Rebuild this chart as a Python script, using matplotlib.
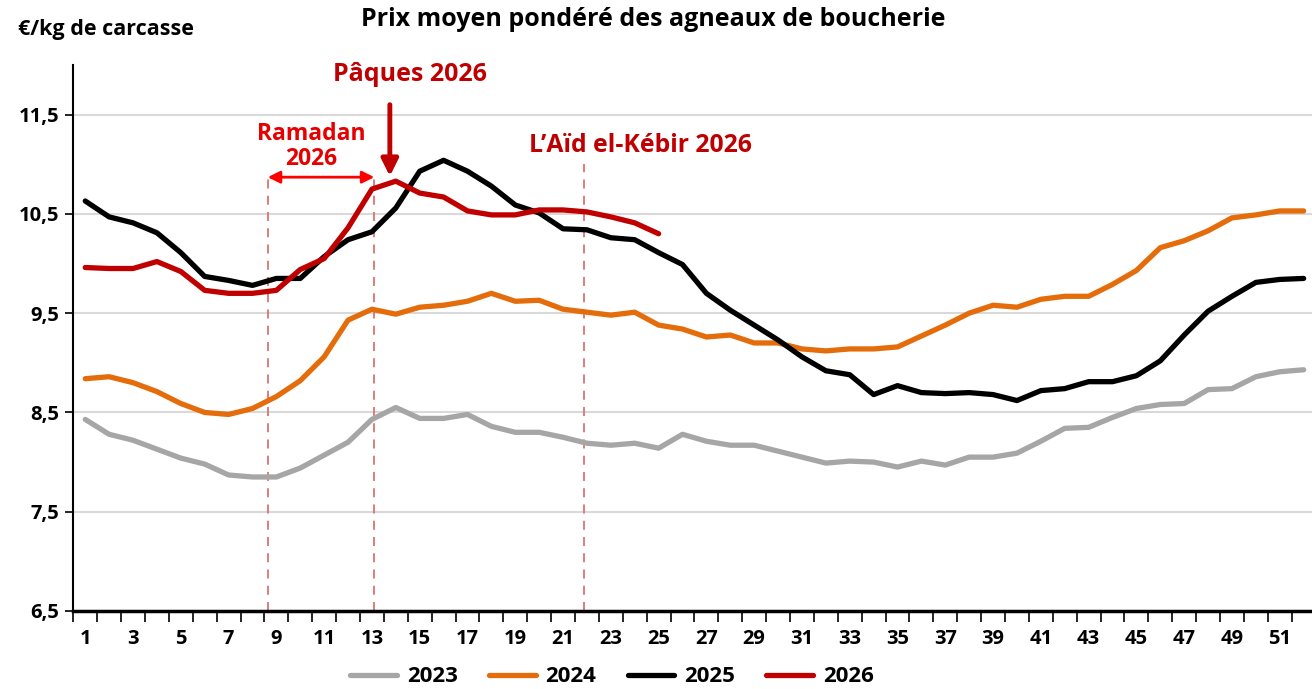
import matplotlib
matplotlib.use("Agg")
import matplotlib.pyplot as plt
from matplotlib.ticker import FixedLocator, FuncFormatter

weeks = list(range(1, 53))
p2023 = [8.43, 8.28, 8.22, 8.13, 8.04, 7.98, 7.87, 7.85, 7.85, 7.94, 8.07, 8.20, 8.43, 8.55,
         8.44, 8.44, 8.48, 8.36, 8.30, 8.30, 8.25, 8.19, 8.17, 8.19, 8.14, 8.28, 8.21, 8.17,
         8.17, 8.11, 8.05, 7.99, 8.01, 8.00, 7.95, 8.01, 7.97, 8.05, 8.05, 8.09, 8.21, 8.34,
         8.35, 8.45, 8.54, 8.58, 8.59, 8.73, 8.74, 8.86, 8.91, 8.93]
p2024 = [8.84, 8.86, 8.80, 8.71, 8.59, 8.50, 8.48, 8.54, 8.66, 8.82, 9.06, 9.43, 9.54, 9.49,
         9.56, 9.58, 9.62, 9.70, 9.62, 9.63, 9.54, 9.51, 9.48, 9.51, 9.38, 9.34, 9.26, 9.28,
         9.20, 9.20, 9.14, 9.12, 9.14, 9.14, 9.16, 9.27, 9.38, 9.50, 9.58, 9.56, 9.64, 9.67,
         9.67, 9.79, 9.93, 10.16, 10.23, 10.33, 10.46, 10.49, 10.53, 10.53]
p2025 = [10.63, 10.47, 10.41, 10.31, 10.11, 9.87, 9.83, 9.78, 9.85, 9.85, 10.07, 10.24, 10.32,
         10.56, 10.93, 11.04, 10.93, 10.78, 10.59, 10.51, 10.35, 10.34, 10.26, 10.24, 10.11,
         9.99, 9.70, 9.53, 9.38, 9.23, 9.06, 8.92, 8.88, 8.68, 8.77, 8.70, 8.69, 8.70, 8.68,
         8.62, 8.72, 8.74, 8.81, 8.81, 8.87, 9.02, 9.28, 9.52, 9.67, 9.81, 9.84, 9.85]
p2026 = [9.96, 9.95, 9.95, 10.02, 9.92, 9.73, 9.70, 9.70, 9.73, 9.94, 10.05, 10.36, 10.75,
         10.83, 10.71, 10.67, 10.53, 10.49, 10.49, 10.54, 10.54, 10.52, 10.47, 10.41, 10.30]

series = [("2023", p2023, "#a6a6a6"), ("2024", p2024, "#e46c0a"),
          ("2025", p2025, "#000000"), ("2026", p2026, "#c00000")]

ramadan_start, ramadan_end = 8.64, 13.1
aid_week = 21.87
paques_week = 13.75

FONT = "Open Sans"
plt.rcParams['font.family'] = [FONT, 'DejaVu Sans']

fig = plt.figure(figsize=(13.12, 6.89), dpi=100)
ax = fig.add_axes([73.3/1312, 1-611/689, (1315.6-73.3)/1312, (611-65)/689])

ax.set_ylim(6.5, 12.0)
ax.set_xlim(0.5, 52.5)
ax.yaxis.set_major_locator(FixedLocator([6.5, 7.5, 8.5, 9.5, 10.5, 11.5]))
ax.yaxis.set_major_formatter(FuncFormatter(lambda v, p: f"{v:.1f}".replace(".", ",")))
ax.grid(axis='y', color='#d9d9d9', linewidth=1.5, zorder=0)

for lab, vals, col in series:
    ax.plot(weeks[:len(vals)], vals, color=col, linewidth=3.8, label=lab,
            solid_capstyle='round', solid_joinstyle='round', zorder=3)

ax.xaxis.set_major_locator(FixedLocator(list(range(1, 53, 2))))
ax.xaxis.set_minor_locator(FixedLocator([w + 0.5 for w in range(0, 53)]))
ax.tick_params(axis='x', which='major', length=0, pad=13, labelsize=14.5)
ax.tick_params(axis='x', which='minor', length=8, width=1.2, direction='out')
ax.tick_params(axis='y', which='major', length=6, width=1.2, direction='out', labelsize=14.5, pad=4)
for t in ax.get_xticklabels() + ax.get_yticklabels():
    t.set_fontweight('bold')

for s in ['top', 'right']:
    ax.spines[s].set_visible(False)
ax.spines['left'].set_linewidth(1.5)
ax.spines['bottom'].set_linewidth(2.5)

# annotations
dash_col = "#d97373"
y_ram = 10.87
ax.plot([ramadan_start, ramadan_start], [6.5, y_ram], color=dash_col, lw=1.3, ls=(0, (5, 4)), zorder=2)
ax.plot([ramadan_end, ramadan_end], [6.5, y_ram], color=dash_col, lw=1.3, ls=(0, (5, 4)), zorder=2)
ax.plot([aid_week, aid_week], [6.5, 11.0], color=dash_col, lw=1.3, ls=(0, (5, 4)), zorder=2)
ax.annotate("", xy=(ramadan_start, y_ram), xytext=(ramadan_end, y_ram),
            arrowprops=dict(arrowstyle="<|-|>", color="#ff0000", lw=2, mutation_scale=18, shrinkA=0, shrinkB=0))
ax.text((ramadan_start + ramadan_end) / 2 - 0.4, 11.18, "Ramadan\n2026", color="#e60000",
        fontsize=16.5, fontweight='bold', ha='center', va='center', linespacing=1.1)
ax.annotate("", xy=(paques_week, 10.88), xytext=(paques_week, 11.6),
            arrowprops=dict(arrowstyle="-|>", color="#c00000", lw=3.5, mutation_scale=25, shrinkA=0, shrinkB=0),
            annotation_clip=False)
ax.text(paques_week + 0.85, 11.9, "Pâques 2026", color="#c00000", fontsize=18,
        fontweight='bold', ha='center', va='center', clip_on=False)
ax.text(aid_week + 2.35, 11.19, "L\u2019Aïd el-Kébir 2026", color="#c00000", fontsize=17.8,
        fontweight='bold', ha='center', va='center')

fig.text(653/1312, 1-20/689, "Prix moyen pondéré des agneaux de boucherie", ha='center', va='center',
         fontsize=18, fontweight='bold')
fig.text(18/1312, 1-30/689, "€/kg de carcasse", ha='left', va='center', fontsize=15.5, fontweight='bold')

leg = fig.legend(loc='center', bbox_to_anchor=(612/1312, 1-677/689), ncol=4, frameon=False,
                 prop={'size': 16, 'weight': 'bold'}, handlelength=2.1, columnspacing=1.4, handletextpad=0.45)

fig.savefig("out.png", dpi=100)
